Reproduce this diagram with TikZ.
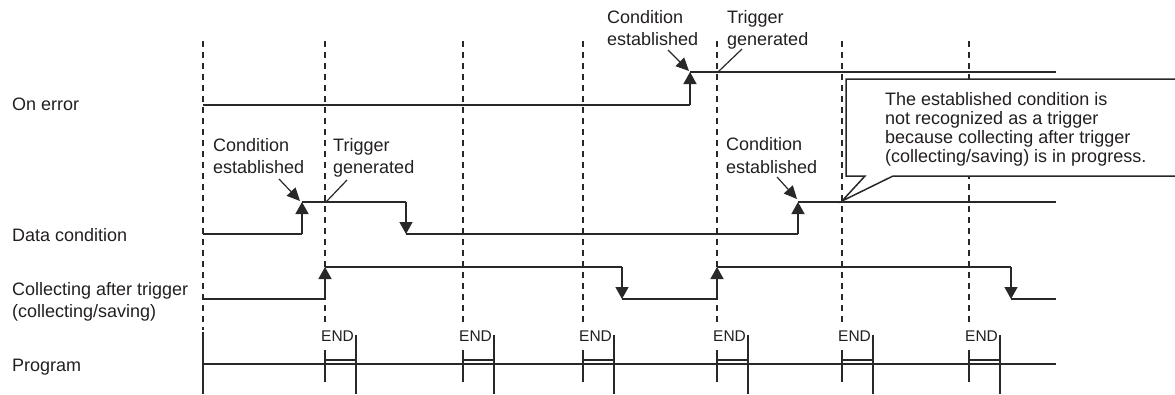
\documentclass[tikz,border=0pt]{standalone}
\usepackage{fontspec}
\setmainfont{Liberation Sans}
\usetikzlibrary{arrows.meta}
\definecolor{lc}{RGB}{40,40,40}
\definecolor{tc}{RGB}{35,31,32}
\begin{document}
\begin{tikzpicture}[x=1pt,y=-1pt,
  sig/.style={draw=lc,line width=1.5pt},
  uparr/.style={sig,-{Triangle[length=12pt,width=13pt]}},
  gridline/.style={draw=lc,line width=1.3pt,dash pattern=on 6pt off 5pt},
  lab/.style={anchor=base west,inner sep=0pt,text=tc,font=\fontsize{18}{22}\selectfont},
  endlab/.style={anchor=base west,inner sep=0pt,text=tc,font=\fontsize{15.5}{18}\selectfont},
  ptr/.style={draw=lc,line width=1.2pt},
  ptrarr/.style={ptr,-{Triangle[length=13pt,width=12pt]}}]
\useasboundingbox (0,0) rectangle (1175,394);

% grid lines
\draw[gridline] (203,41) -- (203,330);
\draw[sig] (203,332) -- (203,394);
\foreach \x in {325,463,583,717,842,969} \draw[gridline] (\x,41) -- (\x,323);

% row labels
\node[lab] (lOn) at (12,110) {On error};
\node[lab] (lData) at (12,241) {Data condition};
\node[lab] (lColA) at (12,295) {Collecting after trigger};
\node[lab] (lColB) at (12,317) {(collecting/saving)};
\node[lab] (lProg) at (12,371) {Program};

% On error
\draw[sig] (203,105) -- (690,105);
\draw[uparr] (690,105) -- (690,72);
\draw[sig] (690,72) -- (1056,72);

% Data condition
\draw[sig] (203,234) -- (302,234);
\draw[uparr] (302,234) -- (302,202);
\draw[sig] (302,202) -- (406,202);
\draw[uparr] (406,202) -- (406,234);
\draw[sig] (406,234) -- (798,234);
\draw[uparr] (798,234) -- (798,202);
\draw[sig] (798,202) -- (1056,202);

% Collecting
\draw[sig] (203,299) -- (325,299);
\draw[uparr] (325,299) -- (325,267);
\draw[sig] (325,267) -- (622,267);
\draw[uparr] (622,267) -- (622,299);
\draw[sig] (622,299) -- (717,299);
\draw[uparr] (717,299) -- (717,267);
\draw[sig] (717,267) -- (1011,267);
\draw[uparr] (1011,267) -- (1011,299);
\draw[sig] (1011,299) -- (1056,299);

% Program
\draw[sig] (203,364) -- (1056,364);
\foreach \d [count=\i] in {325,463,583,717,842,969} {
  \draw[sig] (\d,350) -- (\d,382);
  \draw[sig] (\d+31,335) -- (\d+31,394);
  \draw[sig,line width=1.1pt] (\d,360) -- (\d+31,360);
  \node[endlab] (end\i) at (\d-4,341) {END};
}

% top labels
\node[lab] (tc1) at (607,23) {Condition};
\node[lab] (tc2) at (607,45) {established};
\node[lab] (tt1) at (727,23) {Trigger};
\node[lab] (tt2) at (727,45) {generated};
\draw[ptrarr] (668,50) -- (689,71);
\draw[ptr] (742,49) -- (718,72);

% middle-left labels
\node[lab] (mc1) at (213,151) {Condition};
\node[lab] (mc2) at (213,173) {established};
\node[lab] (mt1) at (333,151) {Trigger};
\node[lab] (mt2) at (333,173) {generated};
\draw[ptrarr] (279,179) -- (300,201);
\draw[ptr] (347,180) -- (326,202);

% right labels
\node[lab] (rc1) at (726,150) {Condition};
\node[lab] (rc2) at (726,173) {established};
\draw[ptrarr] (777,177) -- (797,199);

% callout
\draw[sig,fill=white] (1180,79) -- (846,79) -- (846,176) -- (865,176) -- (842,201) -- (893,176) -- (1180,176);
\node[lab] (co1) at (885,105) {The established condition is};
\node[lab] (co2) at (885,124) {not recognized as a trigger};
\node[lab] (co3) at (885,143) {because collecting after trigger};
\node[lab] (co4) at (885,162) {(collecting/saving) is in progress.};
\end{tikzpicture}
\end{document}
